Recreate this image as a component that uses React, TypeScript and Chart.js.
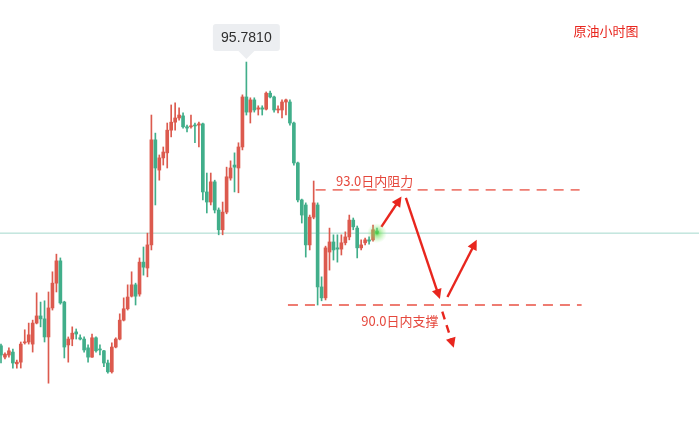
import React, { useEffect, useRef } from 'react';
import { Chart, registerables } from 'chart.js';

Chart.register(...registerables);

// Hourly crude oil candles (price units), left to right
const opens = [
  89.03, 88.76, 88.81, 88.88, 88.60, 88.64, 89.10, 89.12, 89.07, 89.57,
  89.74, 89.67, 89.24, 89.93, 90.52, 91.05, 90.07, 89.05, 89.19, 89.36,
  89.22, 89.19, 88.98, 88.76, 89.22, 88.95, 88.91, 88.62, 88.41, 89.00,
  89.19, 89.64, 89.91, 90.21, 90.48, 90.26, 91.02, 90.88, 91.43, 93.93,
  93.21, 93.50, 93.62, 94.16, 94.35, 94.45, 94.50, 94.24, 94.24, 94.28,
  94.28, 94.31, 92.69, 92.45, 92.93, 92.26, 91.79, 92.21, 93.02, 93.33,
  93.26, 93.76, 94.95, 94.59, 94.88, 94.66, 94.69, 94.66, 95.04, 94.95,
  94.64, 94.64, 94.83, 94.83, 94.33, 93.38, 92.50, 92.38, 91.43, 92.09,
  92.38, 90.43, 90.17, 91.26, 91.50, 91.36, 91.33, 91.48, 91.62, 92.02,
  91.83, 91.36, 91.48, 91.55, 91.55, 91.76,
];
const highs = [
  89.07, 88.86, 88.98, 88.95, 88.69, 89.12, 89.41, 89.57, 89.64, 90.29,
  90.07, 90.10, 90.31, 90.79, 91.21, 91.12, 90.09, 89.24, 89.48, 89.43,
  89.29, 89.24, 89.05, 89.31, 89.24, 89.05, 88.92, 88.69, 89.10, 89.22,
  89.79, 90.17, 90.48, 90.79, 90.52, 91.12, 91.38, 91.71, 94.52, 94.09,
  93.57, 93.76, 94.33, 94.76, 94.81, 94.69, 94.57, 94.28, 94.52, 94.33,
  94.35, 94.33, 93.14, 93.14, 92.97, 92.31, 92.45, 93.28, 93.43, 93.62,
  93.86, 95.00, 95.781, 94.93, 94.93, 94.74, 94.74, 95.07, 95.09, 94.97,
  94.74, 94.88, 94.90, 94.88, 94.35, 93.40, 92.52, 92.43, 92.14, 92.95,
  92.43, 90.67, 91.40, 91.83, 91.67, 91.67, 91.67, 91.74, 92.14, 92.07,
  91.88, 91.55, 91.59, 91.62, 91.90, 91.83,
];
const lows = [
  88.62, 88.72, 88.76, 88.50, 88.50, 88.50, 89.07, 89.07, 88.88, 89.55,
  89.48, 89.12, 88.14, 89.88, 90.31, 90.02, 88.74, 88.64, 89.03, 89.19,
  89.17, 88.88, 88.64, 88.75, 88.88, 88.81, 88.53, 88.38, 88.38, 88.98,
  89.17, 89.62, 89.88, 90.19, 90.00, 90.21, 90.71, 90.67, 91.31, 92.38,
  92.97, 93.33, 93.26, 94.00, 94.16, 94.40, 94.21, 94.12, 94.21, 93.86,
  93.76, 92.50, 92.19, 92.38, 92.19, 91.67, 91.67, 92.17, 92.97, 92.69,
  92.67, 93.69, 94.52, 94.33, 94.59, 94.52, 94.52, 94.64, 94.93, 94.59,
  94.57, 94.45, 94.52, 94.28, 93.33, 92.45, 91.95, 91.14, 91.31, 92.05,
  90.00, 90.10, 90.12, 90.83, 91.07, 91.02, 91.19, 91.43, 91.55, 91.79,
  91.12, 91.31, 91.43, 91.45, 91.52, 91.69,
];
const closes = [
  88.81, 88.83, 88.91, 88.62, 88.64, 89.07, 89.12, 89.29, 89.57, 89.74,
  89.67, 89.24, 89.93, 90.52, 91.05, 90.05, 89.00, 89.19, 89.33, 89.31,
  89.19, 88.93, 88.76, 89.22, 88.91, 88.93, 88.62, 88.41, 89.00, 89.19,
  89.64, 89.91, 90.19, 90.48, 90.21, 91.02, 90.90, 91.43, 93.93, 93.26,
  93.50, 93.64, 94.16, 94.35, 94.45, 94.52, 94.24, 94.21, 94.26, 94.26,
  94.31, 92.69, 92.45, 92.93, 92.26, 91.79, 92.21, 93.05, 93.26, 93.28,
  93.76, 94.95, 94.59, 94.88, 94.64, 94.69, 94.66, 95.04, 94.95, 94.64,
  94.66, 94.83, 94.88, 94.33, 93.38, 92.50, 92.14, 91.43, 92.09, 92.43,
  90.43, 90.17, 91.36, 91.50, 91.31, 91.33, 91.48, 91.62, 92.02, 91.86,
  91.36, 91.43, 91.55, 91.52, 91.79, 91.71,
];

// Analyst annotations (x in candle index units, y in price)
const resistanceLevel = 92.74;
const supportLevel = 90.0;
const resistanceSpan = [79.5, 146.2];
const supportSpan = [72.5, 146.7];
const resistanceLabel = '93.0日内阻力';
const supportLabel = '90.0日内支撑';
const resistanceLabelAt = [94.4, 92.95];
const supportLabelAt = [100.8, 89.62];
const titleLabel = '原油小时图';
const peakLabel = '95.7810';
const solidArrows = [
  [[96.1, 91.86], [101.2, 92.58]],
  [[102.3, 92.55], [110.9, 90.14]],
  [[112.8, 90.19], [120.2, 91.55]],
];
const dashedArrows = [
  [[111.5, 89.84], [114.4, 88.98]],
];

const X_MIN = -0.2527;
const X_MAX = 176.36;
const Y_MIN = 86.788;
const Y_MAX = 97.257;

const RED = '#dc5a4e';
const GREEN = '#41ae8a';
const TEAL = '#a3d8cc';
const DASH_RED = '#ee7c72';
const ARROW_RED = '#e8261e';
const LABEL_RED = '#e5483d';

function drawArrow(ctx: CanvasRenderingContext2D, x1: number, y1: number, x2: number, y2: number, dashed: boolean) {
  const ang = Math.atan2(y2 - y1, x2 - x1);
  const headLen = 10;
  const headHalf = 5;
  const ex = x2 - Math.cos(ang) * headLen * 0.8;
  const ey = y2 - Math.sin(ang) * headLen * 0.8;
  ctx.save();
  ctx.strokeStyle = ARROW_RED;
  ctx.fillStyle = ARROW_RED;
  ctx.lineWidth = 2.4;
  ctx.lineCap = 'butt';
  ctx.setLineDash(dashed ? [8, 6] : []);
  ctx.beginPath();
  ctx.moveTo(x1, y1);
  ctx.lineTo(ex, ey);
  ctx.stroke();
  ctx.setLineDash([]);
  const bx = x2 - Math.cos(ang) * headLen;
  const by = y2 - Math.sin(ang) * headLen;
  ctx.beginPath();
  ctx.moveTo(x2, y2);
  ctx.lineTo(bx + Math.sin(ang) * headHalf, by - Math.cos(ang) * headHalf);
  ctx.lineTo(bx - Math.sin(ang) * headHalf, by + Math.cos(ang) * headHalf);
  ctx.closePath();
  ctx.fill();
  ctx.restore();
}

const annotationPlugin = {
  id: 'annotations',
  afterDatasetsDraw(chart: any) {
    const { ctx, scales, chartArea } = chart;
    const px = (v: number) => scales.x.getPixelForValue(v);
    const py = (v: number) => scales.y.getPixelForValue(v);
    ctx.save();

    solidArrows.forEach(([a, b]) => drawArrow(ctx, px(a[0]), py(a[1]), px(b[0]), py(b[1]), false));
    dashedArrows.forEach(([a, b]) => drawArrow(ctx, px(a[0]), py(a[1]), px(b[0]), py(b[1]), true));

    ctx.font = '13px "Noto Sans CJK SC", "Noto Sans", sans-serif';
    ctx.fillStyle = LABEL_RED;
    ctx.textAlign = 'center';
    ctx.textBaseline = 'middle';
    ctx.fillText(resistanceLabel, px(resistanceLabelAt[0]), py(resistanceLabelAt[1]));
    ctx.fillText(supportLabel, px(supportLabelAt[0]), py(supportLabelAt[1]));

    ctx.fillStyle = ARROW_RED;
    ctx.fillText(titleLabel, chartArea.right - 93, chartArea.top + 31);

    let pi = 0;
    highs.forEach((h, i) => { if (h > highs[pi]) pi = i; });
    const tx = px(pi);
    const ty = py(highs[pi]);
    const w = 67, h = 27;
    const bottom = ty - 11;
    const top = bottom - h;
    const left = tx - w / 2;
    ctx.fillStyle = '#eceef1';
    ctx.beginPath();
    const r = 3;
    ctx.moveTo(left + r, top);
    ctx.lineTo(left + w - r, top);
    ctx.quadraticCurveTo(left + w, top, left + w, top + r);
    ctx.lineTo(left + w, bottom - r);
    ctx.quadraticCurveTo(left + w, bottom, left + w - r, bottom);
    ctx.lineTo(tx + 8, bottom);
    ctx.lineTo(tx, bottom + 8);
    ctx.lineTo(tx - 8, bottom);
    ctx.lineTo(left + r, bottom);
    ctx.quadraticCurveTo(left, bottom, left, bottom - r);
    ctx.lineTo(left, top + r);
    ctx.quadraticCurveTo(left, top, left + r, top);
    ctx.closePath();
    ctx.fill();
    ctx.fillStyle = '#2e2e2e';
    ctx.font = '14px "Liberation Sans", Arial, sans-serif';
    ctx.fillText(peakLabel, tx, top + h / 2 + 1);

    const li = closes.length - 1;
    const gx = px(li);
    const gy = py(closes[li]);
    const g = ctx.createRadialGradient(gx, gy, 0, gx, gy, 10);
    g.addColorStop(0, 'rgba(70,200,60,0.95)');
    g.addColorStop(0.3, 'rgba(110,225,90,0.6)');
    g.addColorStop(1, 'rgba(160,240,140,0)');
    ctx.fillStyle = g;
    ctx.beginPath();
    ctx.arc(gx, gy, 10, 0, Math.PI * 2);
    ctx.fill();

    ctx.restore();
  },
};

export default function App() {
  const ref = useRef<HTMLCanvasElement>(null);
  useEffect(() => {
    document.body.style.margin = '0';
    const canvas = ref.current;
    if (!canvas) return;
    const idx = opens.map((_, i) => i);
    const colors = idx.map((i) => (closes[i] >= opens[i] ? RED : GREEN));
    const last = closes[closes.length - 1];
    const chart = new Chart(canvas, {
      type: 'bar',
      data: {
        datasets: [
          {
            type: 'line',
            data: [{ x: X_MIN, y: last }, { x: X_MAX, y: last }],
            borderColor: TEAL,
            borderWidth: 1,
            pointRadius: 0,
            order: 10,
          } as any,
          {
            data: idx.map((i) => ({ x: i, y: [lows[i], highs[i]] })),
            backgroundColor: colors,
            barThickness: 1,
            grouped: false,
            borderWidth: 0,
            order: 5,
          } as any,
          {
            data: idx.map((i) => ({ x: i, y: [opens[i], closes[i]] })),
            backgroundColor: colors,
            barThickness: 3,
            minBarLength: 1,
            grouped: false,
            borderWidth: 0,
            order: 4,
          } as any,
          {
            type: 'line',
            data: [{ x: resistanceSpan[0], y: resistanceLevel }, { x: resistanceSpan[1], y: resistanceLevel }],
            borderColor: DASH_RED,
            borderWidth: 1.8,
            borderDash: [10, 7],
            pointRadius: 0,
            order: 1,
          } as any,
          {
            type: 'line',
            data: [{ x: supportSpan[0], y: supportLevel }, { x: supportSpan[1], y: supportLevel }],
            borderColor: DASH_RED,
            borderWidth: 1.8,
            borderDash: [10, 7],
            pointRadius: 0,
            order: 1,
          } as any,
        ],
      },
      options: {
        animation: false,
        responsive: false,
        layout: { padding: 0 },
        plugins: { legend: { display: false }, tooltip: { enabled: false } },
        scales: {
          x: { type: 'linear', min: X_MIN, max: X_MAX, offset: false, display: false },
          y: { type: 'linear', min: Y_MIN, max: Y_MAX, display: false },
        },
      },
      plugins: [annotationPlugin],
    } as any);
    return () => chart.destroy();
  }, []);
  return (
    <div style={{ position: 'absolute', left: 0, top: 0, width: 699, height: 440, background: '#fff' }}>
      <canvas ref={ref} width={699} height={440} style={{ display: 'block' }} />
    </div>
  );
}
